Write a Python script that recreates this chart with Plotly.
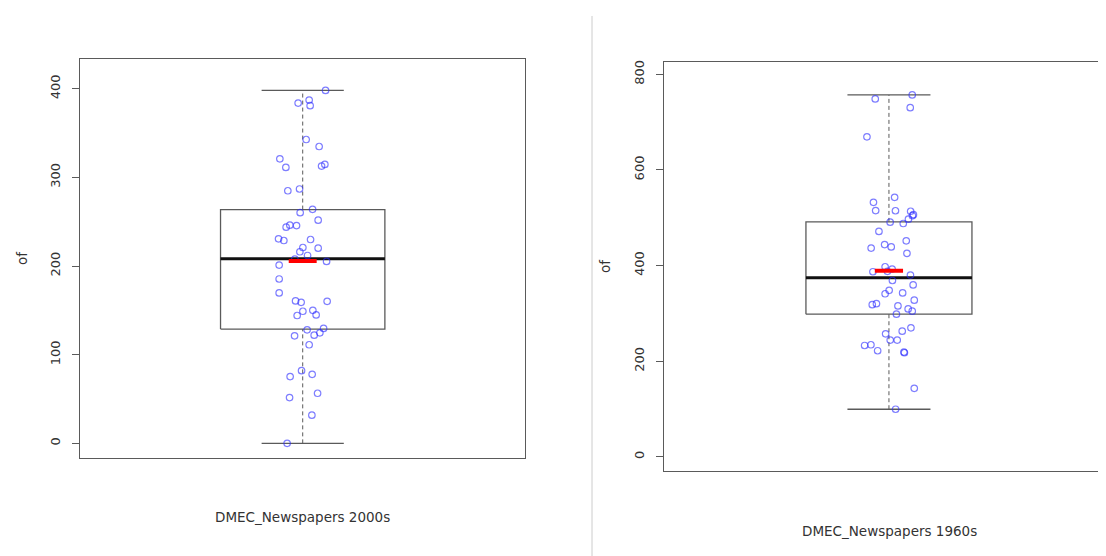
import plotly.graph_objects as go

# ---------------- data ----------------
left_label = "DMEC_Newspapers 2000s"
right_label = "DMEC_Newspapers 1960s"
y_title = "of"

left_values = [398.1, 383.8, 387.2, 380.9, 342.7, 334.8, 320.9, 311.2, 312.7, 314.6,
               284.9, 286.9, 264.0, 260.2, 251.7, 243.8, 246.1, 245.6, 230.7, 228.8,
               229.9, 220.9, 216.1, 220.2, 211.9, 207.9, 201.1, 205.2, 185.4, 169.7,
               160.7, 159.1, 160.2, 149.0, 150.1, 144.2, 144.9, 128.1, 129.6, 121.3,
               122.0, 124.7, 111.2, 82.0, 75.3, 77.9, 51.7, 56.5, 31.8, 0.0]
left_jitter = [0.0556, -0.0111, 0.0157, 0.0181, 0.0084, 0.0400, -0.0556, -0.0410, 0.0459, 0.0539,
               -0.0362, -0.0077, 0.0240, -0.0062, 0.0376, -0.0403, -0.0313, -0.0150, -0.0588, -0.0459,
               0.0191, 0.0004, -0.0069, 0.0376, 0.0118, -0.0191, -0.0573, 0.0581, -0.0573, -0.0573,
               -0.0174, -0.0038, 0.0595, 0.0004, 0.0247, -0.0135, 0.0327, 0.0108, 0.0508, -0.0198,
               0.0279, 0.0418, 0.0157, -0.0028, -0.0306, 0.0230, -0.0320, 0.0362, 0.0223, -0.0379]

right_values = [756.7, 748.3, 730.2, 669.2, 532.3, 542.7, 515.0, 514.6, 513.5, 506.3,
                504.2, 496.9, 487.9, 490.6, 471.3, 451.7, 443.8, 439.0, 436.5, 425.6,
                397.5, 392.7, 387.9, 387.1, 380.2, 368.8, 359.4, 348.3, 341.0, 342.7,
                327.7, 318.3, 320.4, 315.6, 309.4, 304.6, 298.3, 269.8, 262.9, 257.3,
                244.2, 244.2, 232.9, 234.4, 221.9, 219.2, 217.7, 143.3, 99.6]
right_jitter = [0.0561, -0.0330, 0.0513, -0.0530, -0.0373, 0.0137, -0.0320, 0.0157, 0.0523, 0.0590,
                0.0566, 0.0470, 0.0345, 0.0029, -0.0241, 0.0417, -0.0104, 0.0055, -0.0429, 0.0434,
                -0.0092, 0.0077, -0.0036, -0.0386, 0.0518, 0.0084, 0.0583, 0.0005, -0.0092, 0.0330,
                0.0610, -0.0402, -0.0301, 0.0217, 0.0463, 0.0561, 0.0181, 0.0530, 0.0320, -0.0080,
                0.0031, 0.0200, -0.0586, -0.0434, -0.0272, 0.0361, 0.0373, 0.0610, 0.0161]

# box statistics: [lower whisker, Q1, median, Q3, upper whisker]
left_stats = [0.0, 128.9, 208.2, 263.7, 398.1]
right_stats = [99.6, 298.3, 374.6, 491.3, 756.7]
left_mean = 205.6
right_mean = 389.0

left_ticks = [0, 100, 200, 300, 400]
right_ticks = [0, 200, 400, 600, 800]

# ---------------- styling ----------------
PAGE_W, PAGE_H = 1106, 556
OFF = 8                      # default page body margin
W, H = PAGE_W - OFF, PAGE_H - OFF


def px(X):
    return (X - OFF) / W


def py(Y):
    return (PAGE_H - Y) / H


BOX_POS = 1.0
BOX_W = 0.4
CAP_W = 0.2
MEAN_W = 0.068
LINE_C = "#5a5a5a"
PT_C = "rgba(40,40,255,0.6)"
FONT = "DejaVu Sans"

fig = go.Figure()


def add_panel(xa, ya, values, jitter, stats, mean):
    lo, q1, med, q3, hi = stats
    xl, xr = BOX_POS - BOX_W / 2, BOX_POS + BOX_W / 2
    fig.add_trace(go.Scatter(x=[BOX_POS, BOX_POS, None, BOX_POS, BOX_POS],
                             y=[q3, hi, None, lo, q1], mode="lines",
                             line=dict(color=LINE_C, width=1, dash="4px,3px"),
                             xaxis=xa, yaxis=ya, hoverinfo="skip", showlegend=False))
    fig.add_trace(go.Scatter(x=[BOX_POS - CAP_W / 2, BOX_POS + CAP_W / 2, None,
                                BOX_POS - CAP_W / 2, BOX_POS + CAP_W / 2],
                             y=[hi, hi, None, lo, lo], mode="lines",
                             line=dict(color=LINE_C, width=1.3),
                             xaxis=xa, yaxis=ya, hoverinfo="skip", showlegend=False))
    fig.add_trace(go.Scatter(x=[xl, xr, xr, xl, xl], y=[q1, q1, q3, q3, q1], mode="lines",
                             line=dict(color=LINE_C, width=1.3),
                             xaxis=xa, yaxis=ya, hoverinfo="skip", showlegend=False))
    fig.add_trace(go.Scatter(x=[xl, xr], y=[med, med], mode="lines",
                             line=dict(color="#111111", width=3),
                             xaxis=xa, yaxis=ya, hoverinfo="skip", showlegend=False))
    fig.add_trace(go.Scatter(x=[BOX_POS + j for j in jitter], y=values, mode="markers",
                             marker=dict(symbol="circle-open", size=6.5, color=PT_C,
                                         line=dict(width=1.2, color=PT_C)),
                             xaxis=xa, yaxis=ya, showlegend=False))
    fig.add_trace(go.Scatter(x=[BOX_POS - MEAN_W / 2, BOX_POS + MEAN_W / 2], y=[mean, mean],
                             mode="lines", line=dict(color="#ff0000", width=4),
                             xaxis=xa, yaxis=ya, hoverinfo="skip", showlegend=False))


add_panel("x", "y", left_values, left_jitter, left_stats, left_mean)
add_panel("x2", "y2", right_values, right_jitter, right_stats, right_mean)

axis_common = dict(showgrid=False, zeroline=False, linecolor=LINE_C, linewidth=1,
                   tickfont=dict(family=FONT, size=13, color="#333333"))

fig.update_layout(
    width=W, height=H,
    margin=dict(l=0, r=0, t=0, b=0),
    paper_bgcolor="white", plot_bgcolor="white",
    showlegend=False,
    xaxis=dict(domain=[px(80), px(525)], range=[0.458, 1.541], showticklabels=False,
               ticks="", showline=True, mirror=True, **axis_common),
    yaxis=dict(domain=[py(458), py(57)], range=[-16.9, 433.7],
               tickvals=left_ticks, ticks="outside", ticklen=7, tickcolor=LINE_C,
               tickangle=-90, showline=True, mirror=True, ticklabelstandoff=7,
               **axis_common),
    xaxis2=dict(domain=[px(664), 1.0], range=[0.458, 1.523], showticklabels=False,
                ticks="", showline=True, mirror=True, anchor="y2", **axis_common),
    yaxis2=dict(domain=[py(471), py(60)], range=[-30.2, 826.0],
                tickvals=right_ticks, ticks="outside", ticklen=7, tickcolor=LINE_C,
                tickangle=-90, showline=True, mirror=False, anchor="x2",
                ticklabelstandoff=7, **axis_common),
)

fig.add_shape(type="line", xref="paper", yref="paper", x0=px(592), x1=px(592),
              y0=0, y1=py(14), line=dict(color="#cccccc", width=1))

label_font = dict(family=FONT, size=13.5, color="#333333")
fig.add_annotation(text=left_label, xref="paper", yref="paper", x=px(302.5), y=py(517),
                   showarrow=False, font=label_font, xanchor="center", yanchor="middle")
fig.add_annotation(text=right_label, xref="paper", yref="paper", x=px(889), y=py(531),
                   showarrow=False, font=label_font, xanchor="center", yanchor="middle")
fig.add_annotation(text=y_title, xref="paper", yref="paper", x=px(22), y=py(257),
                   showarrow=False, font=label_font, textangle=-90,
                   xanchor="center", yanchor="middle")
fig.add_annotation(text=y_title, xref="paper", yref="paper", x=px(605), y=py(265),
                   showarrow=False, font=label_font, textangle=-90,
                   xanchor="center", yanchor="middle")

fig.write_html("out.html")
